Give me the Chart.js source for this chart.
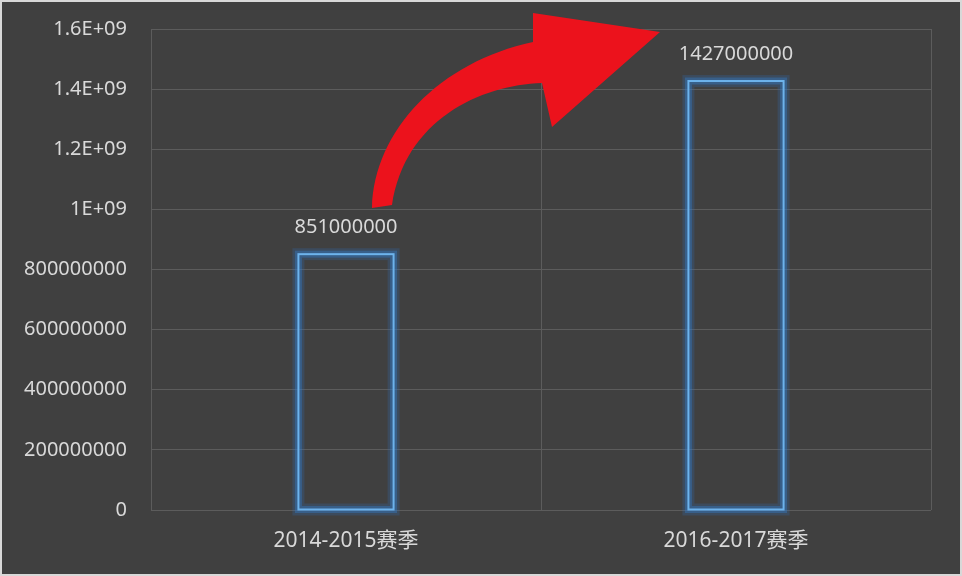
<!DOCTYPE html>
<html>
<head>
<meta charset="utf-8">
<script src="https://cdn.jsdelivr.net/npm/chart.js@4/dist/chart.umd.min.js"></script>
<style>
  html, body { margin: 0; padding: 0; background: #ffffff; }
  #wrap {
    width: 962px; height: 576px; box-sizing: border-box;
    border: 2px solid #d8d8d8; background: #404040;
  }
  canvas { display: block; }
</style>
</head>
<body>
<div id="wrap"><canvas id="chart" width="958" height="572"></canvas></div>
<script>
const categories = ['2014-2015赛季', '2016-2017赛季'];
const values = [851000000, 1427000000];
const yTicks = [0, 200000000, 400000000, 600000000, 800000000, 1000000000, 1200000000, 1400000000, 1600000000];
const yTickLabels = ['0', '200000000', '400000000', '600000000', '800000000', '1E+09', '1.2E+09', '1.4E+09', '1.6E+09'];

const textColor = '#d9d9d9';
const gridColor = '#5c5c5c';
const fontFamily = '"Noto Sans", "Noto Sans CJK SC", sans-serif';

// blue glow around the bar outlines, taken from the bar elements
const glowPlugin = {
    id: 'glow',
    afterDatasetsDraw(chart) {
        const ctx = chart.ctx;
        const meta = chart.getDatasetMeta(0);
        ctx.save();
        meta.data.forEach(bar => {
            const p = bar.getProps(['x', 'y', 'base', 'width'], true);
            const left = p.x - p.width / 2;
            const top = p.y;
            const h = p.base - p.y;
            ctx.lineJoin = 'miter';
            ctx.strokeStyle = 'rgba(45, 115, 195, 0.22)';
            ctx.lineWidth = 12;
            ctx.strokeRect(left, top, p.width, h);
            ctx.strokeStyle = 'rgba(50, 125, 205, 0.4)';
            ctx.lineWidth = 7;
            ctx.strokeRect(left, top, p.width, h);
            ctx.strokeStyle = '#6db3ec';
            ctx.lineWidth = 2;
            ctx.strokeRect(left, top, p.width, h);
        });
        ctx.restore();
    }
};

// value labels above the bars
const labelPlugin = {
    id: 'valueLabels',
    afterDatasetsDraw(chart) {
        const ctx = chart.ctx;
        const meta = chart.getDatasetMeta(0);
        ctx.save();
        ctx.fillStyle = textColor;
        ctx.font = '20px ' + fontFamily;
        ctx.textAlign = 'center';
        ctx.textBaseline = 'middle';
        meta.data.forEach((bar, i) => {
            ctx.fillText(String(values[i]), bar.x, bar.y - 27);
        });
        ctx.restore();
    }
};

// the red curved arrow
const arrowPlugin = {
    id: 'arrow',
    afterDraw(chart) {
        const ctx = chart.ctx;
        ctx.save();
        ctx.translate(-2, -2);
        ctx.fillStyle = '#ec121c';
        ctx.beginPath();
        ctx.moveTo(372, 208);
        ctx.bezierCurveTo(374, 130, 440, 62, 533, 42);
        ctx.lineTo(533, 13);
        ctx.lineTo(660, 32);
        ctx.lineTo(552, 127);
        ctx.lineTo(542, 83);
        ctx.bezierCurveTo(480, 85, 405, 120, 392, 205);
        ctx.closePath();
        ctx.fill();
        ctx.restore();
    }
};

const ctx = document.getElementById('chart').getContext('2d');
const chart = new Chart(ctx, {
    type: 'bar',
    data: {
        labels: categories,
        datasets: [{
            data: values,
            backgroundColor: 'rgba(0, 0, 0, 0)',
            borderWidth: 0,
            barPercentage: 0.244,
            categoryPercentage: 1
        }]
    },
    options: {
        responsive: false,
        animation: false,
        devicePixelRatio: 1,
        layout: { padding: { top: 27, right: 29, left: 0, bottom: 0 } },
        plugins: {
            legend: { display: false },
            tooltip: { enabled: false }
        },
        scales: {
            x: {
                grid: { color: gridColor, lineWidth: 1, offset: true, drawTicks: false },
                border: { display: false },
                ticks: {
                    color: textColor,
                    font: { family: fontFamily, size: 21 },
                    padding: 18
                },
                afterFit(scale) { scale.height = 64; }
            },
            y: {
                min: 0,
                max: 1600000000,
                grid: { color: gridColor, lineWidth: 1, drawTicks: false },
                border: { display: false },
                afterBuildTicks(scale) {
                    scale.ticks = yTicks.map(v => ({ value: v }));
                },
                ticks: {
                    color: textColor,
                    font: { family: fontFamily, size: 20 },
                    padding: 24,
                    callback: (v, i) => yTickLabels[i]
                },
                afterFit(scale) {
                    scale.width = 149;
                    scale.paddingTop = 0;
                    scale.paddingBottom = 0;
                }
            }
        }
    },
    plugins: [glowPlugin, labelPlugin, arrowPlugin]
});
</script>
</body>
</html>
